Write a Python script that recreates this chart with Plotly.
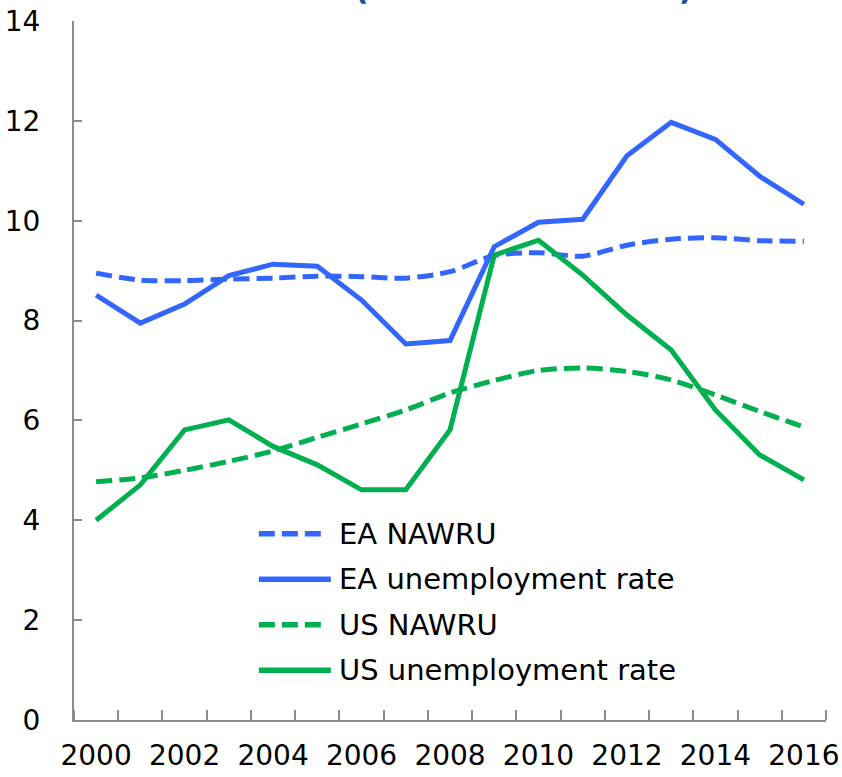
import plotly.graph_objects as go

years = list(range(2000, 2017))
ea_nawru = [8.95, 8.81, 8.80, 8.83, 8.85, 8.89, 8.88, 8.85, 8.98, 9.30, 9.36, 9.29, 9.51, 9.63, 9.66, 9.60, 9.59]
ea_unemp = [8.51, 7.95, 8.33, 8.90, 9.13, 9.09, 8.41, 7.53, 7.60, 9.48, 9.97, 10.03, 11.30, 11.97, 11.63, 10.89, 10.33]
us_nawru = [4.77, 4.85, 5.00, 5.18, 5.39, 5.66, 5.93, 6.21, 6.55, 6.80, 7.00, 7.05, 6.98, 6.81, 6.51, 6.18, 5.87]
us_unemp = [4.00, 4.71, 5.81, 6.01, 5.48, 5.11, 4.61, 4.61, 5.81, 9.31, 9.61, 8.91, 8.11, 7.41, 6.21, 5.31, 4.81]

series_names = ["EA NAWRU", "EA unemployment rate", "US NAWRU", "US unemployment rate"]
x_tick_labels = [str(y) for y in range(2000, 2017, 2)]
y_tick_vals = [0, 2, 4, 6, 8, 10, 12, 14]
subtitle = "(% of labour force)"

BLUE = "#3366FF"
GREEN = "#00B050"
DASH = "16px,7px"
FONT = "Verdana, DejaVu Sans, sans-serif"

styles = [
    (ea_nawru, BLUE, DASH, "spline"),
    (ea_unemp, BLUE, "solid", "linear"),
    (us_nawru, GREEN, DASH, "spline"),
    (us_unemp, GREEN, "solid", "linear"),
]

fig = go.Figure()
for name, (vals, col, dash, shape) in zip(series_names, styles):
    fig.add_trace(go.Scatter(
        x=years, y=vals, mode="lines", name=name, showlegend=False,
        line=dict(color=col, width=5, dash=dash, shape=shape, smoothing=0.8),
    ))

# custom legend (long sample lines like the original)
row_y = [0.2663, 0.2013, 0.1362, 0.0712]
for name, (vals, col, dash, shape), ry in zip(series_names, styles, row_y):
    x1 = 0.3315 if dash != "solid" else 0.3415
    fig.add_shape(type="line", xref="paper", yref="paper",
                  x0=0.2458, x1=x1, y0=ry, y1=ry,
                  line=dict(color=col, width=5.5, dash=dash))
    fig.add_annotation(xref="paper", yref="paper", x=0.3495, y=ry,
                       xanchor="left", yanchor="middle", text=name,
                       showarrow=False, font=dict(size=29, color="#000000", family=FONT))

# cropped title line at the very top
fig.add_annotation(xref="paper", yref="paper", x=(524 - 74) / 752.5, y=1,
                   xanchor="center", yanchor="bottom", yshift=12,
                   text="<b>" + subtitle + "</b>", showarrow=False,
                   font=dict(size=32, color="#1F4E9A", family=FONT))

fig.update_layout(
    width=842, height=777,
    margin=dict(l=74, r=15.5, t=20.7, b=56.7, autoexpand=False),
    paper_bgcolor="white", plot_bgcolor="white",
    font=dict(family=FONT, size=28, color="#000000"),
    showlegend=False,
)
fig.update_xaxes(
    range=[1999.5, 2016.5], automargin=False,
    tickmode="array", tickvals=list(range(2000, 2017, 2)), ticktext=x_tick_labels,
    ticks="", showgrid=False, zeroline=False,
    showline=True, linecolor="#8C8C8C", linewidth=2,
    ticklabelstandoff=9,
    tickfont=dict(size=28, family=FONT),
    minor=dict(ticks="inside", tick0=1999.5, dtick=1, ticklen=10,
               tickcolor="#8C8C8C", tickwidth=2, showgrid=False),
)
fig.update_yaxes(
    range=[0, 14], automargin=False, tickmode="array", tickvals=y_tick_vals,
    ticks="inside", ticklen=8, tickcolor="#8C8C8C", tickwidth=2,
    showgrid=False, zeroline=False,
    showline=True, linecolor="#8C8C8C", linewidth=2,
    ticklabelstandoff=26,
    tickfont=dict(size=28, family=FONT),
)

fig.write_html("out.html", config={"displayModeBar": False},
               post_script="document.body.style.margin='0px';")
